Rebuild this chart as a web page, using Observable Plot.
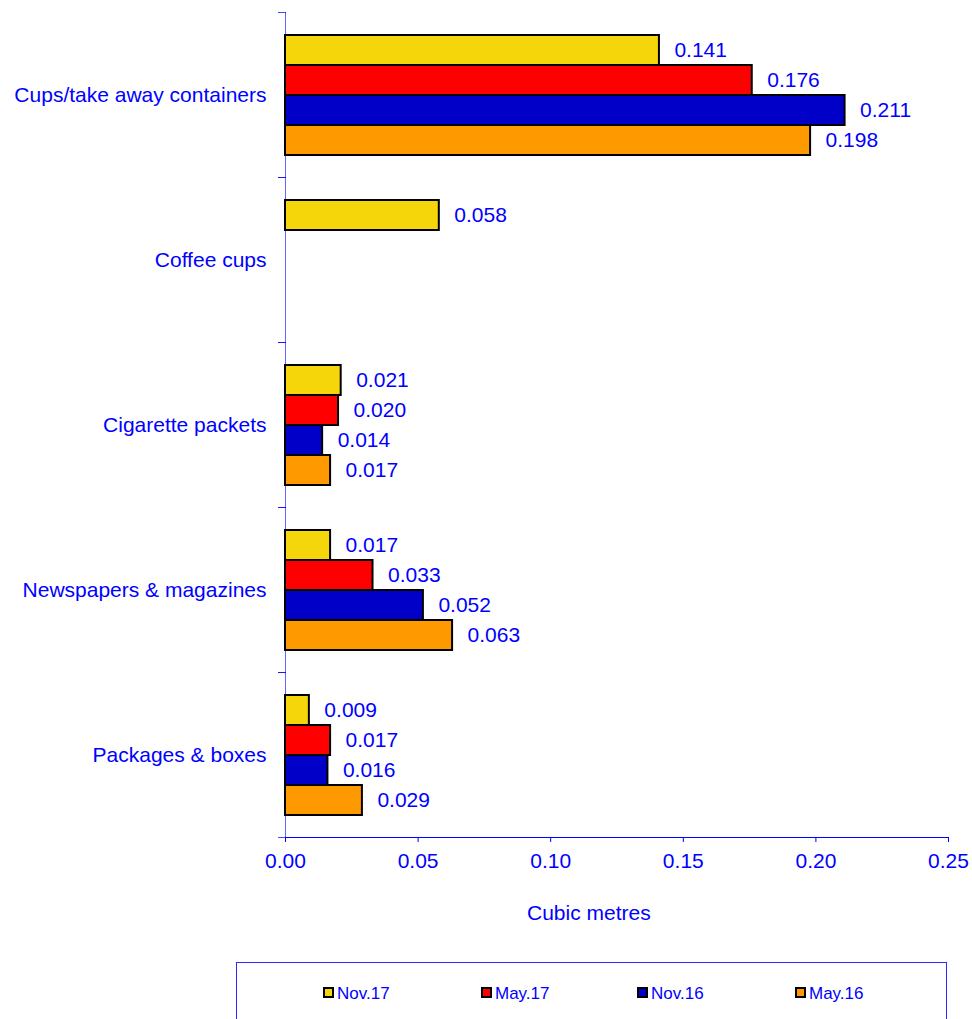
<!DOCTYPE html>
<html><head><meta charset="utf-8">
<script src="https://cdn.jsdelivr.net/npm/d3@7"></script>
<script src="https://cdn.jsdelivr.net/npm/@observablehq/plot@0.6"></script>
<style>
body{margin:0;background:#fff;font-family:"Liberation Sans",Arial,sans-serif;}
#wrap{position:relative;width:972px;height:1019px;overflow:hidden;}
#xlabel{position:absolute;left:527px;top:901px;font-size:21px;color:#0000ff;white-space:nowrap;}
#legend{position:absolute;left:236px;top:962px;width:711px;height:90px;border:1px solid #2a2aff;box-sizing:border-box;}
.sw{position:absolute;width:11px;height:11px;box-sizing:border-box;border:2px solid #000;}
.lt{position:absolute;font-size:17px;line-height:17px;color:#0000ff;white-space:nowrap;}
</style></head><body><div id="wrap"></div>
<script>
const categories = ["Cups/take away containers","Coffee cups","Cigarette packets","Newspapers & magazines","Packages & boxes"];
const series = ["Nov.17","May.17","Nov.16","May.16"];
const nov17 = [0.141, 0.058, 0.021, 0.017, 0.009];
const may17 = [0.176, null, 0.020, 0.033, 0.017];
const nov16 = [0.211, null, 0.014, 0.052, 0.016];
const may16 = [0.198, null, 0.017, 0.063, 0.029];
const colors = ["#f5d60a","#ff0000","#0000c8","#ff9900"];
const xTicks = [0, 0.05, 0.10, 0.15, 0.20, 0.25];
const xTitle = "Cubic metres";

const seriesValues = [nov17, may17, nov16, may16];
const data = [];
series.forEach((s, j) => {
  categories.forEach((c, i) => {
    const v = seriesValues[j][i];
    if (v != null) data.push({category: c, series: s, value: v});
  });
});

const axisBlue = "#0000ff";
const chart = Plot.plot({
  width: 972, height: 940,
  marginLeft: 285, marginRight: 24, marginTop: 12, marginBottom: 103,
  style: {fontFamily: '"Liberation Sans", Arial, sans-serif', fontSize: "21px", color: axisBlue, background: "white"},
  x: {domain: [0, 0.25]},
  y: {domain: series, paddingInner: 0, paddingOuter: 0.75, axis: null},
  fy: {domain: categories, padding: 0},
  color: {domain: series, range: colors},
  marks: [
    Plot.frame({anchor: "top", insetLeft: -7, insetRight: 663, stroke: axisBlue, strokeOpacity: 0.7}),
    Plot.frame({anchor: "bottom", insetLeft: -7, insetRight: 663, stroke: axisBlue, strokeOpacity: 0.7}),
    Plot.frame({facet: "super", anchor: "left", stroke: axisBlue, strokeOpacity: 0.6}),
    Plot.frame({facet: "super", anchor: "bottom", stroke: axisBlue}),
    Plot.barX(data, {x: "value", y: "series", fy: "category", fill: "series", stroke: "black", strokeWidth: 2}),
    Plot.text(data, {x: "value", y: "series", fy: "category", text: d => d3.format(".3f")(d.value),
      textAnchor: "start", dx: 15, fill: axisBlue, fontSize: 21}),
    Plot.axisFy({anchor: "left", tickSize: 0, tickPadding: 19, fontSize: 21, label: null}),
    Plot.axisX({ticks: xTicks, tickFormat: d3.format(".2f"), tickSize: 5, tickPadding: 11, fontSize: 21, label: null})
  ]
});
const wrap = document.getElementById("wrap");
wrap.appendChild(chart);

const xl = document.createElement("div");
xl.id = "xlabel"; xl.textContent = xTitle;
wrap.appendChild(xl);

const lg = document.createElement("div");
lg.id = "legend";
wrap.appendChild(lg);
const legendX = [323, 481, 637, 795];
series.forEach((s, j) => {
  const sw = document.createElement("div");
  sw.className = "sw";
  sw.style.left = legendX[j] + "px"; sw.style.top = "987px";
  sw.style.background = colors[j];
  wrap.appendChild(sw);
  const t = document.createElement("div");
  t.className = "lt";
  t.style.left = (legendX[j] + 14) + "px"; t.style.top = "985px";
  t.textContent = s;
  wrap.appendChild(t);
});
</script></body></html>
